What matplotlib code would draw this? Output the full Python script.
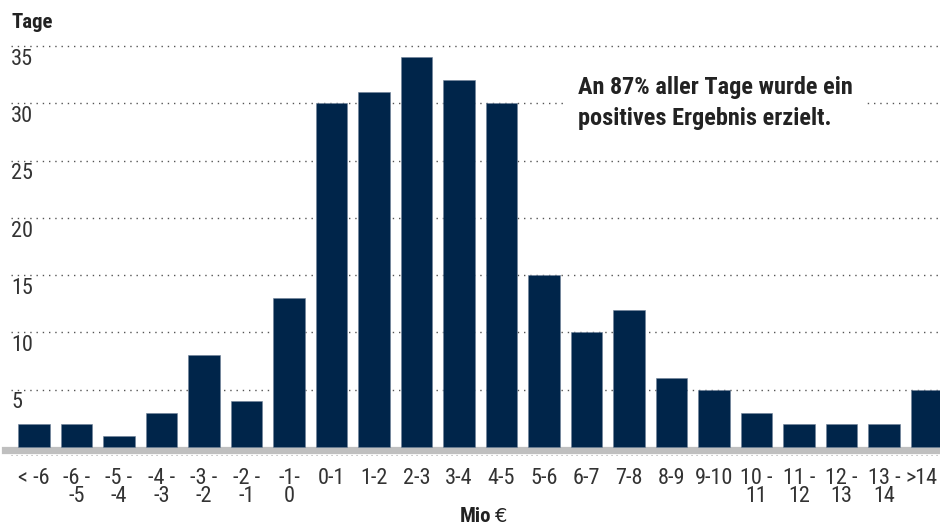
import matplotlib.pyplot as plt
from matplotlib import font_manager

# Verteilung der Tagesergebnisse (Anzahl Tage je Ergebnisklasse in Mio €)
klassen = ["< -6", "-6 -\n-5", "-5 -\n-4", "-4 -\n-3", "-3 -\n-2", "-2 -\n-1", "-1-\n0",
           "0-1", "1-2", "2-3", "3-4", "4-5", "5-6", "6-7", "7-8", "8-9", "9-10",
           "10 -\n11", "11 -\n12", "12 -\n13", "13 -\n14", ">14"]
tage = [2, 2, 1, 3, 8, 4, 13, 30, 31, 34, 32, 30, 15, 10, 12, 6, 5, 3, 2, 2, 2, 5]
y_ticks = [5, 10, 15, 20, 25, 30, 35]

names = {f.name for f in font_manager.fontManager.ttflist}
fam = [n for n in ["Roboto Condensed", "Liberation Sans Narrow", "Liberation Sans"]
       if n in names]
plt.rcParams["font.family"] = fam[:1] + ["DejaVu Sans"]

BAR = "#00254a"
TXT = "#333333"
FS = 16

fig = plt.figure(figsize=(9.4, 5.26), dpi=100)
W, H = 940, 526
zero_px, top_px = 447, 46
unit = (zero_px - top_px) / 35.0
ymin, ymax = -0.75, 36.5
ax = fig.add_axes([0, (H - zero_px - (0 - ymin) * unit) / H, 1,
                   (ymax - ymin) * unit / H])
ax.set_xlim(-0.8, -0.8 + W / 42.5)
ax.set_ylim(ymin, ymax)
ax.axis("off")

x = list(range(len(tage)))
ax.bar(x, tage, width=0.75, color=BAR, edgecolor="#6f8299", linewidth=0.4, zorder=3)

# gepunktete Rasterlinien mit Beschriftung darunter
x0 = 11 / W
for v in y_ticks:
    ax.axhline(v, xmin=x0, xmax=1, color="#555555", lw=1.0,
               linestyle=(0, (1, 3.5)), zorder=1)
    ax.annotate(str(v), xy=(x0, v), xycoords=("axes fraction", "data"),
                xytext=(0, -2), textcoords="offset points",
                ha="left", va="top", fontsize=FS, color=TXT)
ax.axhline(-0.3, xmin=0.005, xmax=1, color="#bfbfbf", lw=5.2, zorder=2)
ax.axhline(-0.68, xmin=x0, xmax=1, color="#aaaaaa", lw=0.8,
           linestyle=(0, (1, 3.5)), zorder=1)

for xi, lab in zip(x, klassen):
    last = xi == len(klassen) - 1
    ax.annotate(lab, xy=(xi, 0), xycoords="data",
                xytext=(8 if last else 0, -15), textcoords="offset points",
                ha="right" if last else "center", va="top",
                fontsize=FS, color=TXT, linespacing=0.85, annotation_clip=False)

fig.text(11 / W, 1 - 23 / H, "Tage", fontsize=15, fontweight="bold",
         color="#222222", ha="left", va="center")
fig.text(491 / W, 1 - 517 / H, "Mio", fontsize=15, fontweight="bold",
         color="#222222", ha="right", va="center")
fig.text(495 / W, 1 - 516 / H, "€", fontsize=14, color="#222222",
         ha="left", va="center", family="DejaVu Sans")

ax.text(578 / W, (H - 103) / H,
        "An 87% aller Tage wurde ein\npositives Ergebnis erzielt.",
        transform=fig.transFigure, fontsize=17.5, fontweight="bold",
        color="#222222", ha="left", va="center", linespacing=1.4, zorder=4,
        bbox=dict(facecolor="white", edgecolor="none", pad=8))

fig.savefig("out.png", dpi=100, facecolor="white")
